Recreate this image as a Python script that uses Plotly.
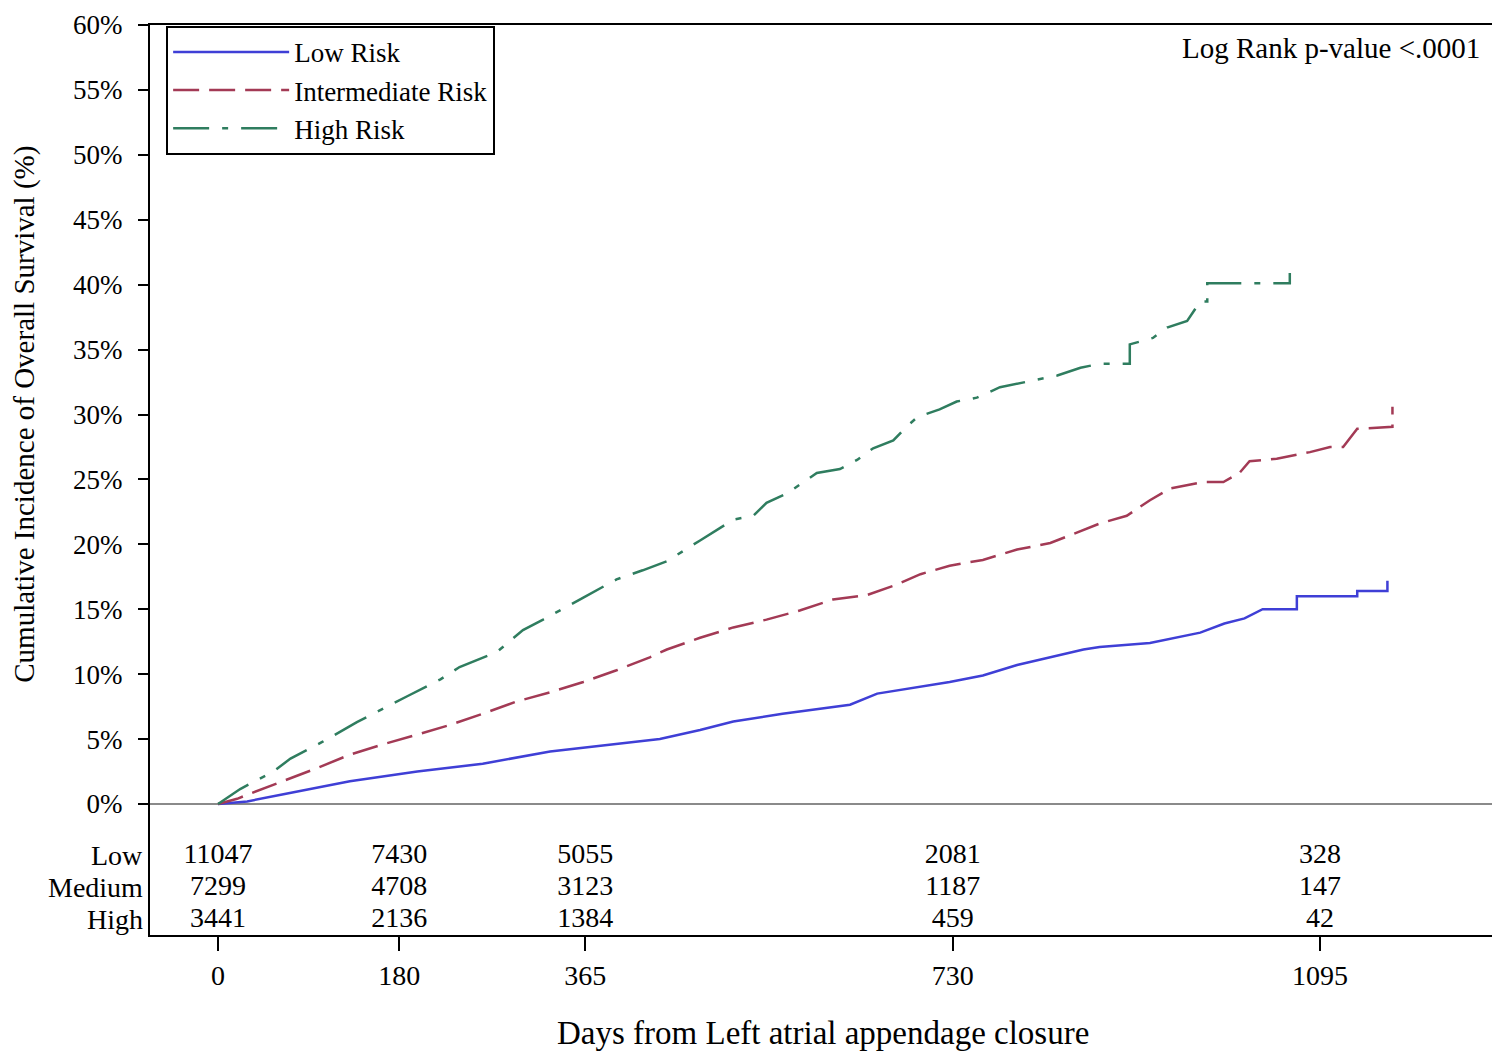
import plotly.graph_objects as go

# ---- data ----
low_days = [0, 29, 65, 131, 198, 263, 330, 396, 439, 479, 512, 561, 628, 655, 695, 727, 760, 794, 827, 860,
            876, 926, 976, 1000, 1020, 1038, 1072, 1072, 1132, 1132, 1162, 1162]
low_pct = [0, 0.2, 0.75, 1.75, 2.5, 3.1, 4.05, 4.6, 5.0, 5.7, 6.35, 6.95, 7.65, 8.5, 9.0, 9.4, 9.9, 10.7, 11.3, 11.9,
           12.1, 12.4, 13.2, 13.9, 14.3, 15.0, 15.0, 16.0, 16.0, 16.4, 16.4, 17.2]

mid_days = [0, 19, 32, 65, 98, 131, 164, 198, 231, 263, 297, 330, 363, 396, 429, 446, 479, 512, 545, 578,
            611, 645, 671, 698, 727, 760, 794, 827, 860, 876, 903, 926, 946, 979, 999, 1015, 1025, 1052, 1085, 1105,
            1118, 1132, 1167, 1167]
mid_pct = [0, 0.4, 0.8, 1.75, 2.75, 3.8, 4.6, 5.35, 6.1, 6.95, 7.9, 8.6, 9.4, 10.3, 11.3, 11.9, 12.8, 13.6, 14.2, 14.9,
           15.75, 16.1, 16.8, 17.7, 18.35, 18.8, 19.6, 20.1, 21.1, 21.6, 22.2, 23.4, 24.3, 24.8, 24.8, 25.5, 26.4, 26.6, 27.1, 27.5,
           27.5, 28.9, 29.05, 30.6]

high_days = [0, 22, 55, 72, 104, 138, 188, 221, 240, 277, 303, 323, 363, 396, 422, 446, 479, 512, 532, 545,
             565, 595, 618, 635, 651, 671, 684, 695, 717, 734, 754, 777, 834, 857, 876, 884, 906, 906, 929, 943,
             963, 976, 983, 983, 1065, 1065]
high_pct = [0, 1.15, 2.5, 3.5, 4.8, 6.3, 8.3, 9.6, 10.55, 11.7, 13.4, 14.2, 15.9, 17.3, 18.0, 18.7, 20.3, 21.9, 22.2, 23.2,
            23.9, 25.5, 25.8, 26.5, 27.4, 28.0, 29.05, 29.8, 30.4, 31.0, 31.3, 32.1, 33.0, 33.6, 33.9, 33.9, 33.9, 35.4, 35.9, 36.7,
            37.2, 38.7, 38.7, 40.1, 40.1, 40.9]

risk_times = [0, 180, 365, 730, 1095]
risk_low = [11047, 7430, 5055, 2081, 328]
risk_medium = [7299, 4708, 3123, 1187, 147]
risk_high = [3441, 2136, 1384, 459, 42]
risk_row_names = ["Low", "Medium", "High"]
risk_row_y = [-4.0, -6.45, -8.9]

y_ticks = list(range(0, 61, 5))
y_tick_text = [f"{v}%" for v in y_ticks]

FONT = "Liberation Serif"
BLUE = "#3f3fd6"
RED = "#a33a55"
GREEN = "#2f7d5f"

fig = go.Figure()
fig.add_trace(go.Scatter(x=low_days, y=low_pct, mode="lines", name="Low Risk",
                         line=dict(color=BLUE, width=2.5, dash="solid")))
fig.add_trace(go.Scatter(x=mid_days, y=mid_pct, mode="lines", name="Intermediate Risk",
                         line=dict(color=RED, width=2.5, dash="26px,10px")))
fig.add_trace(go.Scatter(x=high_days, y=high_pct, mode="lines", name="High Risk",
                         line=dict(color=GREEN, width=2.5, dash="36px,13px,6px,13px")))

# at-risk table
for vals, yv in zip([risk_low, risk_medium, risk_high], risk_row_y):
    fig.add_trace(go.Scatter(x=risk_times, y=[yv] * len(risk_times), mode="text",
                             text=[str(v) for v in vals], textposition="middle center",
                             textfont=dict(family=FONT, size=28, color="black"),
                             showlegend=False, hoverinfo="skip"))

annotations = []
for name, yv in zip(risk_row_names, risk_row_y):
    annotations.append(dict(x=-0.004, xref="paper", y=yv, yref="y", text=name, showarrow=False,
                            xanchor="right", yanchor="middle", font=dict(family=FONT, size=28, color="black")))
annotations.append(dict(x=0.99, xref="paper", y=0.975, yref="paper", text="Log Rank p-value <.0001",
                        showarrow=False, xanchor="right", yanchor="middle",
                        font=dict(family=FONT, size=29, color="black")))
annotations.append(dict(x=0.5, xref="paper", y=-0.108, yref="paper",
                        text="Days from Left atrial appendage closure", showarrow=False,
                        xanchor="center", yanchor="middle", font=dict(family=FONT, size=33, color="black")))
annotations.append(dict(x=-0.0935, xref="paper", y=30, yref="y",
                        text="Cumulative Incidence of Overall Survival (%)", showarrow=False, textangle=-90,
                        xanchor="center", yanchor="middle", font=dict(family=FONT, size=29, color="black")))

fig.update_layout(
    width=1492, height=1048,
    margin=dict(l=142, r=5, t=17, b=121, autoexpand=False),
    paper_bgcolor="white", plot_bgcolor="white",
    font=dict(family=FONT, size=28, color="black"),
    showlegend=True,
    legend=dict(x=0.012, y=0.999, xanchor="left", yanchor="top",
                bgcolor="white", bordercolor="black", borderwidth=2,
                font=dict(family=FONT, size=27, color="black"),
                itemwidth=116, tracegroupgap=0),
    annotations=annotations,
    shapes=[dict(type="line", xref="paper", x0=0, x1=1, yref="y", y0=0, y1=0,
                 line=dict(color="#8a8a8a", width=2), layer="below")],
)
fig.update_xaxes(range=[-67.6, 1268.9], tickvals=risk_times, ticks="outside", ticklen=14, tickwidth=2,
                 tickcolor="black", showline=True, linecolor="black", linewidth=2, mirror=True,
                 showgrid=False, zeroline=False, tickfont=dict(family=FONT, size=28, color="black"),
                 ticklabelstandoff=0, ticklabeloverflow="allow", automargin=False)
fig.update_yaxes(range=[-10.09, 60.0], tickvals=y_ticks, ticktext=y_tick_text, ticks="outside", ticklen=10,
                 tickwidth=2, tickcolor="black", showline=True, linecolor="black", linewidth=2, mirror=True,
                 showgrid=False, zeroline=False, tickfont=dict(family=FONT, size=27, color="black"),
                 ticklabelstandoff=10, ticklabeloverflow="allow", automargin=False)

fig.write_html("out.html")
